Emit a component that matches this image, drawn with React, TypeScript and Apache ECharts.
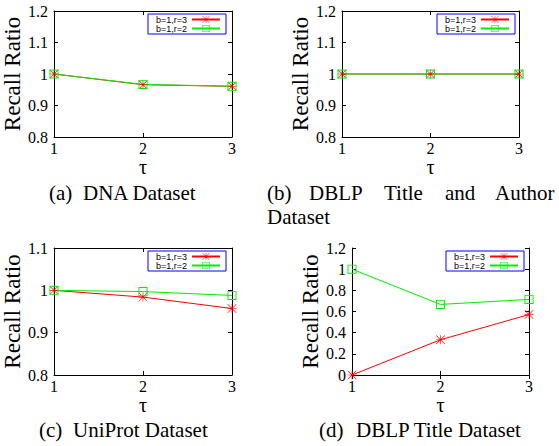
import React, { useEffect, useRef } from "react";
import * as echarts from "echarts";

const tauValues = [1, 2, 3];
const legendNames = ["b=1,r=3", "b=1,r=2"];

const dnaR3 = [1, 0.966, 0.961];
const dnaR2 = [1, 0.967, 0.961];
const dblpTitleAuthorR3 = [1, 1, 1];
const dblpTitleAuthorR2 = [1, 1, 1];
const uniprotR3 = [1, 0.984, 0.957];
const uniprotR2 = [1, 0.997, 0.988];
const dblpTitleR3 = [0, 0.333, 0.571];
const dblpTitleR2 = [1, 0.667, 0.714];

const yMins = [0.8, 0.8, 0.8, 0];
const yMaxs = [1.2, 1.2, 1.1, 1.2];
const ySteps = [0.1, 0.1, 0.1, 0.2];

const xAxisName = "τ";
const yAxisName = "Recall Ratio";

const SERIF = "Liberation Serif";
const SANS = "Liberation Sans";

const STAR =
  "path://M0 9.3H20V10.7H0Z M9.3 0H10.7V20H9.3Z M0 1L1 0L20 19L19 20Z M19 0L20 1L1 20L0 19Z";
const SQUARE = "path://M0 0H10V10H0Z M1 1V9H9V1Z";

const panels = [
  { r3: dnaR3, r2: dnaR2, grid: { left: 54, top: 11, width: 178, height: 126 }, legend: { left: 148, top: 14 } },
  { r3: dblpTitleAuthorR3, r2: dblpTitleAuthorR2, grid: { left: 342, top: 11, width: 177, height: 126 }, legend: { left: 437, top: 14 } },
  { r3: uniprotR3, r2: uniprotR2, grid: { left: 54, top: 248, width: 178, height: 127 }, legend: { left: 148, top: 251 } },
  { r3: dblpTitleR3, r2: dblpTitleR2, grid: { left: 352, top: 248, width: 177, height: 127 }, legend: { left: 446, top: 251 } },
];

const captions = [
  { text: "(a)", x: 49, y: 193 },
  { text: "DNA Dataset", x: 83, y: 193 },
  { text: "(b)", x: 267, y: 193 },
  { text: "DBLP", x: 309, y: 193 },
  { text: "Title", x: 384, y: 193 },
  { text: "and", x: 445, y: 193 },
  { text: "Author", x: 495, y: 193 },
  { text: "Dataset", x: 267, y: 217 },
  { text: "(c)", x: 39, y: 430 },
  { text: "UniProt Dataset", x: 73, y: 430 },
  { text: "(d)", x: 319, y: 430 },
  { text: "DBLP Title Dataset", x: 356, y: 430 },
];

export default function App() {
  const ref = useRef<HTMLDivElement>(null);
  useEffect(() => {
    if (!ref.current) return;
    const chart = echarts.init(ref.current, null, { renderer: "svg" });
    const black = "#000";
    const grids: any[] = [];
    const xAxes: any[] = [];
    const yAxes: any[] = [];
    const series: any[] = [];
    const legends: any[] = [];
    panels.forEach((p, i) => {
      grids.push({ ...p.grid, containLabel: false });
      const common = {
        gridIndex: i,
        axisLine: { show: true, lineStyle: { color: black, width: 1 } },
        axisTick: { show: true, inside: true, length: 4, lineStyle: { color: black, width: 1 } },
        splitLine: { show: false },
      };
      xAxes.push({
        ...common,
        type: "value",
        position: "bottom",
        min: 1,
        max: 3,
        interval: 1,
        axisLabel: { fontSize: 16, fontFamily: SERIF, color: black, margin: 3 },
        name: xAxisName,
        nameLocation: "middle",
        nameGap: 14,
        nameTextStyle: { fontSize: 20, fontFamily: SERIF, color: black },
      });
      xAxes.push({
        ...common,
        type: "value",
        position: "top",
        min: 1,
        max: 3,
        interval: 1,
        axisLabel: { show: false },
      });
      yAxes.push({
        ...common,
        type: "value",
        position: "left",
        min: yMins[i],
        max: yMaxs[i],
        interval: ySteps[i],
        axisLabel: { fontSize: 16, fontFamily: SERIF, color: black, margin: 6 },
        name: yAxisName,
        nameLocation: "middle",
        nameGap: 29,
        nameTextStyle: { fontSize: 23, fontFamily: SERIF, color: black },
      });
      yAxes.push({
        ...common,
        type: "value",
        position: "right",
        min: yMins[i],
        max: yMaxs[i],
        interval: ySteps[i],
        axisLabel: { show: false },
      });
      series.push({
        type: "line",
        name: legendNames[0],
        xAxisIndex: 2 * i,
        yAxisIndex: 2 * i,
        data: tauValues.map((t, k) => [t, p.r3[k]]),
        symbol: STAR,
        symbolSize: 9,
        lineStyle: { color: "#ff0000", width: 1 },
        itemStyle: { color: "#ff0000" },
        clip: false,
        silent: true,
      });
      series.push({
        type: "line",
        name: legendNames[1],
        xAxisIndex: 2 * i,
        yAxisIndex: 2 * i,
        data: tauValues.map((t, k) => [t, p.r2[k]]),
        symbol: SQUARE,
        symbolSize: 9,
        lineStyle: { color: "#00ee00", width: 1 },
        itemStyle: { color: "#00ee00" },
        clip: false,
        silent: true,
      });
      legends.push({
        left: p.legend.left,
        top: p.legend.top,
        orient: "vertical",
        align: "right",
        data: legendNames,
        itemWidth: 28,
        itemHeight: 9,
        itemGap: 0,
        padding: [1, 5, 1, 8],
        borderColor: "#0000ff",
        borderWidth: 1,
        backgroundColor: "#fff",
        selectedMode: false,
        textStyle: { fontSize: 9, fontFamily: SANS, color: black, lineHeight: 9 },
      });
    });
    chart.setOption({
      animation: false,
      backgroundColor: "#fff",
      grid: grids,
      xAxis: xAxes,
      yAxis: yAxes,
      series,
      legend: legends,
      graphic: captions.map((c) => ({
        type: "text",
        x: c.x,
        y: c.y,
        style: {
          text: c.text,
          fontSize: 21,
          fontFamily: SERIF,
          fill: black,
          align: "left",
          verticalAlign: "middle",
        },
      })),
    });
    return () => chart.dispose();
  }, []);
  return (
    <div
      ref={ref}
      style={{ position: "absolute", left: 0, top: 0, width: 559, height: 446 }}
    />
  );
}
